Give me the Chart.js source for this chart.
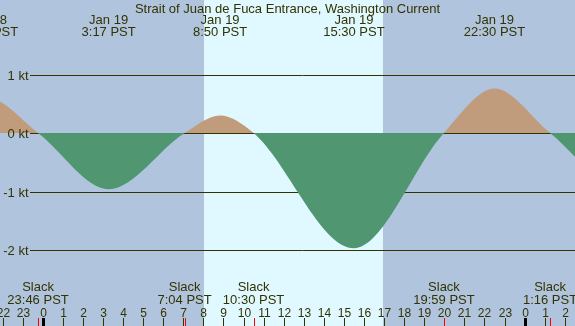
<!DOCTYPE html>
<html>
<head>
<meta charset="utf-8">
<script src="https://cdn.jsdelivr.net/npm/chart.js@4"></script>
<style>
html, body { margin: 0; padding: 0; background: #b0c4de; }
canvas { display: block; }
</style>
</head>
<body>
<canvas id="tide" width="575" height="326"></canvas>
<script>
// slack water and max flood / ebb, PST ('MM-DD HH:MM')
const eventTimes = ['01-18 18:15', '01-18 21:15', '01-18 23:46', '01-19 03:17', '01-19 07:04', '01-19 08:50',
	'01-19 10:30', '01-19 15:30', '01-19 19:59', '01-19 22:30', '01-20 01:16', '01-20 04:40', '01-20 07:40']
const eventSpeeds = [0, 0.6, 0, -0.96, 0, 0.30, 0, -1.97, 0, 0.76, 0, -0.9, 0]
const speedLines = [1, 0, -1, -2]
const sunTimes = ['01-19 08:02', '01-19 16:58']
const title = 'Strait of Juan de Fuca Entrance, Washington Current'
const monthNames = ['Jan', 'Feb', 'Mar', 'Apr', 'May', 'Jun', 'Jul', 'Aug', 'Sep', 'Oct', 'Nov', 'Dec']

const NIGHT = '#b0c4de'
const DAY = '#e0f8ff'
const FLOOD = '#c09c7c'
const EBB = '#509670'
const INK = '#333300'
const FONT = '13px "Liberation Sans", Arial, sans-serif'
const SMALL = '12px "Liberation Sans", Arial, sans-serif'

// hours since Jan 19 00:00
function toHours(t) {
	const day = +t.slice(3, 5)
	return (day - 19) * 24 + (+t.slice(6, 8)) + (+t.slice(9, 11)) / 60
}
function clock(t) {
	return (+t.slice(6, 8)) + ':' + t.slice(9, 11) + ' PST'
}
function dayLabel(t) {
	return monthNames[+t.slice(0, 2) - 1] + ' ' + (+t.slice(3, 5))
}

const paper = {
	id: 'paper',
	beforeDatasetsDraw(chart) {
		const { ctx, scales: { x, y } } = chart
		ctx.save()
		ctx.fillStyle = NIGHT
		ctx.fillRect(0, 0, chart.width, chart.height)
		const x0 = Math.round(x.getPixelForValue(toHours(sunTimes[0])))
		const x1 = Math.round(x.getPixelForValue(toHours(sunTimes[1])))
		ctx.fillStyle = DAY
		ctx.fillRect(x0, 0, x1 - x0, chart.height)

		// speed lines sit under the fills (zero line hidden by ebb fill)
		ctx.strokeStyle = INK
		ctx.lineWidth = 1
		speedLines.forEach(v => {
			const py = Math.round(y.getPixelForValue(v) + 0.25) + 0.5
			ctx.beginPath()
			ctx.moveTo(30, py)
			ctx.lineTo(chart.width, py)
			ctx.stroke()
		})
		ctx.restore()
	},
	afterDatasetsDraw(chart) {
		const { ctx, scales: { x, y } } = chart
		ctx.save()
		ctx.fillStyle = INK
		ctx.font = FONT
		ctx.textBaseline = 'alphabetic'

		ctx.textAlign = 'right'
		speedLines.forEach(v => {
			const py = Math.round(y.getPixelForValue(v) + 0.25)
			ctx.fillText(v + ' kt', 28.5, py + 4.5)
		})

		ctx.textAlign = 'center'
		ctx.fillText(title, chart.width / 2, 12.5)

		eventTimes.forEach((t, i) => {
			const px = x.getPixelForValue(toHours(t))
			if (eventSpeeds[i] === 0) {
				ctx.fillText('Slack', px, 291)
				ctx.fillText(clock(t), px, 304)
			} else {
				ctx.fillText(dayLabel(t), px, 24)
				ctx.fillText(clock(t), px, 36)
			}
		})

		// hour ticks
		ctx.font = SMALL
		for (let h = Math.ceil(x.min); h <= Math.floor(x.max); h++) {
			const px = Math.round(x.getPixelForValue(h))
			const hh = ((h % 24) + 24) % 24
			ctx.fillStyle = INK
			ctx.fillText(String(hh), px + 0.5, 317)
			if (hh === 0) {
				ctx.fillStyle = '#000000'
				ctx.fillRect(px - 1, 318, 3, 8)
			} else {
				ctx.fillRect(px, 318, 1, 8)
			}
		}
		ctx.fillStyle = '#ff0000'
		eventTimes.forEach((t, i) => {
			if (eventSpeeds[i] !== 0) return
			const px = Math.round(x.getPixelForValue(toHours(t)))
			ctx.fillRect(px, 318, 1, 8)
		})
		ctx.restore()
	}
}

new Chart(document.getElementById('tide'), {
	type: 'line',
	data: {
		datasets: [{
			data: eventTimes.map((t, i) => ({ x: toHours(t), y: eventSpeeds[i] })),
			cubicInterpolationMode: 'monotone',
			borderColor: 'rgba(0,0,0,0)',
			borderWidth: 0,
			pointRadius: 0,
			fill: { target: { value: 0 }, above: FLOOD, below: EBB }
		}]
	},
	options: {
		responsive: false,
		devicePixelRatio: 1,
		animation: false,
		events: [],
		layout: { padding: 0 },
		plugins: { legend: { display: false }, tooltip: { enabled: false } },
		scales: {
			x: { type: 'linear', display: false, min: -2.127, max: 26.509 },
			y: { type: 'linear', display: false, min: -3.2991, max: 2.2735 }
		}
	},
	plugins: [paper]
})
</script>
</body>
</html>
